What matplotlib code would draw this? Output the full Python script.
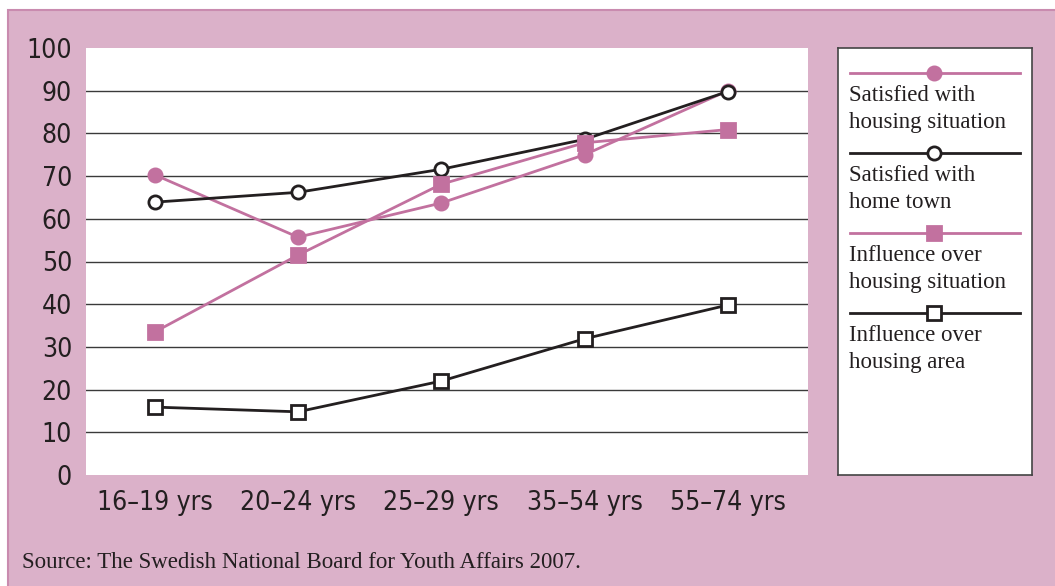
import matplotlib.pyplot as plt
from matplotlib.patches import Rectangle
from matplotlib.lines import Line2D

# Data
age_groups = ['16–19 yrs', '20–24 yrs', '25–29 yrs', '35–54 yrs', '55–74 yrs']
sat_housing = [70.3, 55.7, 63.7, 75, 90]
sat_town = [63.9, 66.2, 71.6, 78.6, 89.8]
infl_housing = [33.5, 51.5, 68.1, 77.8, 80.9]
infl_area = [15.9, 14.8, 22, 31.9, 39.8]
labels = ['Satisfied with\nhousing situation', 'Satisfied with\nhome town',
          'Influence over\nhousing situation', 'Influence over\nhousing area']

pink = '#C2719F'
dark = '#231F20'
bg = '#DBB1C9'
W, H = 1055, 586

fig = plt.figure(figsize=(W / 100, H / 100), dpi=100)
fig.patch.set_facecolor('white')

def box(x0, y0, x1, y1):
    return [x0 / W, 1 - y1 / H, (x1 - x0) / W, (y1 - y0) / H]

# pink panel behind everything
bgax = fig.add_axes([0, 0, 1, 1], zorder=-10)
bgax.set_xlim(0, W)
bgax.set_ylim(H, 0)
bgax.axis('off')
bgax.add_patch(Rectangle((8, 10), W, H, facecolor=bg, edgecolor='#C98BAF', lw=1.5))

serif = ['Liberation Serif', 'DejaVu Serif']

ax = fig.add_axes(box(86, 48, 808, 475))
ax.set_facecolor('white')
x = range(len(age_groups))
series = [
    (sat_housing, pink, 'o', pink),
    (sat_town, dark, 'o', 'white'),
    (infl_housing, pink, 's', pink),
    (infl_area, dark, 's', 'white'),
]
for vals, c, m, fc in series:
    ax.plot(x, vals, color=c, lw=2, marker=m, markersize=9.5,
            markerfacecolor=fc, markeredgecolor=c, markeredgewidth=2, zorder=3)

ax.set_ylim(0, 100)
ax.set_xlim(-0.48, 4.56)
ax.set_yticks(range(0, 101, 10))
ax.set_xticks(list(x))
ax.set_xticklabels(age_groups)
for yv in range(10, 100, 10):
    ax.axhline(yv, color='#3a3a3a', lw=1, zorder=1)
for s in ax.spines.values():
    s.set_visible(False)
ax.tick_params(length=0, labelsize=19, colors='#231F20')
ax.tick_params(axis='y', pad=10)
ax.tick_params(axis='x', pad=11)
for t in ax.get_xticklabels() + ax.get_yticklabels():
    t.set_family('DejaVu Sans')
    t.set_fontstretch('condensed')

# legend panel
lax = fig.add_axes(box(838, 48, 1032, 475))
lax.set_xlim(838, 1032)
lax.set_ylim(475, 48)
lax.set_xticks([])
lax.set_yticks([])
for s in lax.spines.values():
    s.set_color('#444444')
    s.set_linewidth(1.2)
line_y = [73, 153, 233, 313]
for (vals, c, m, fc), ly, lab in zip(series, line_y, labels):
    lax.add_line(Line2D([850, 1020], [ly, ly], color=c, lw=2))
    lax.plot([934], [ly], marker=m, markersize=9.5, markerfacecolor=fc,
             markeredgecolor=c, markeredgewidth=2)
    lax.text(849, ly + 12, lab, va='top', ha='left', fontsize=16.5,
             family=serif, color=dark, linespacing=1.35)

fig.text(22 / W, 1 - 563 / H, 'Source: The Swedish National Board for Youth Affairs 2007.',
         fontsize=16.5, family=serif, color=dark, va='center', ha='left')

fig.savefig('out.png', dpi=100, facecolor=fig.get_facecolor())
